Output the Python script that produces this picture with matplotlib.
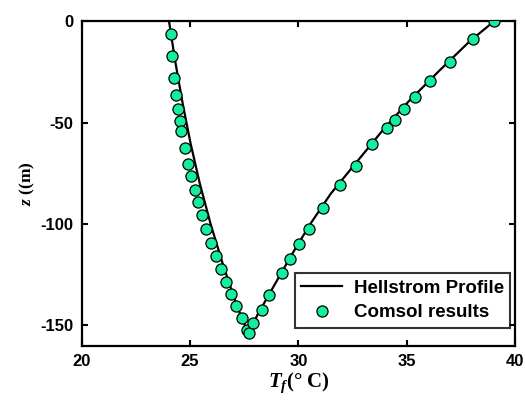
import matplotlib
matplotlib.use("Agg")
import matplotlib.pyplot as plt

# Hellstrom analytical profile (fluid temperature vs depth, down and up legs)
hell_T = [24.03, 24.32, 24.65, 25.02, 25.45, 25.95, 26.52, 27.15, 27.7,
          28.1, 28.9, 29.7, 30.55, 31.5, 32.65, 33.8, 35.05, 36.45, 37.9, 39.04]
hell_z = [0, -20, -40, -60, -80, -100, -120, -140, -154.5,
          -145, -130, -115, -100, -85, -70, -55, -40, -25, -10, 0]

# COMSOL simulation results
comsol_T = [24.11, 24.15, 24.26, 24.35, 24.46, 24.52, 24.60, 24.75, 24.92, 25.06,
            25.23, 25.38, 25.54, 25.74, 25.97, 26.20, 26.41, 26.66, 26.89, 27.12,
            27.38, 27.61, 27.72, 27.92, 28.31, 28.64, 29.23, 29.61, 30.04, 30.50,
            31.15, 31.92, 32.64, 33.41, 34.09, 34.44, 34.89, 35.38, 36.09, 36.99,
            38.06, 39.04]
comsol_z = [-6.4, -17.3, -28.0, -36.5, -43.4, -49.0, -54.1, -62.3, -70.2, -76.4,
            -83.0, -89.1, -95.7, -102.3, -109.4, -115.9, -122.2, -128.4, -134.5, -140.3,
            -146.2, -152.1, -153.8, -148.6, -142.2, -135.0, -124.0, -117.4, -110.0, -102.3,
            -91.9, -80.6, -71.4, -60.8, -52.6, -48.5, -43.1, -37.3, -29.6, -20.1,
            -9.0, -0.15]

x_ticks = [20, 25, 30, 35, 40]
y_ticks = [-150, -100, -50, 0]

plt.rcParams['axes.unicode_minus'] = False
plt.rcParams['mathtext.fontset'] = 'custom'
plt.rcParams['mathtext.it'] = 'Liberation Serif:italic:bold'
plt.rcParams['mathtext.rm'] = 'Liberation Serif:bold'
plt.rcParams['mathtext.bf'] = 'Liberation Serif:bold'

fig = plt.figure(figsize=(5.25, 4.07), dpi=100)
ax = fig.add_axes([0.1556, 0.1506, 0.8254, 0.7974])

ax.plot(hell_T, hell_z, color='black', lw=1.6, label='Hellstrom Profile', zorder=2)
ax.plot(comsol_T, comsol_z, ls='none', marker='o', ms=8, mfc='#12EE9C',
        mec='black', mew=0.9, label='Comsol results', zorder=3)

ax.set_xlim(20, 40)
ax.set_ylim(-160, 0)
ax.set_xticks(x_ticks)
ax.set_yticks(y_ticks)
ax.tick_params(direction='in', length=4, width=1.5, top=True, right=True,
               labelsize=12, pad=6)
for lab in ax.get_xticklabels() + ax.get_yticklabels():
    lab.set_fontweight('bold')
    lab.set_fontfamily('Liberation Sans')
for s in ax.spines.values():
    s.set_linewidth(1.6)

ax.set_xlabel(r'$T_f$(° C)', fontsize=15, fontfamily='Liberation Serif',
              fontweight='bold', labelpad=1)
ax.set_ylabel(r'$z$ ((m)', fontsize=12.5, fontfamily='Liberation Serif',
              fontweight='bold', labelpad=2)

leg = ax.legend(loc='lower right', prop={'family': 'Liberation Sans', 'weight': 'bold', 'size': 13.5},
                frameon=True, fancybox=False, edgecolor='black', borderpad=0.35,
                handlelength=2.2, handletextpad=0.6, labelspacing=0.4, borderaxespad=0,
                bbox_to_anchor=(0.989, 0.055))
leg.get_frame().set_linewidth(1.5)

fig.savefig('out.png', dpi=100)
